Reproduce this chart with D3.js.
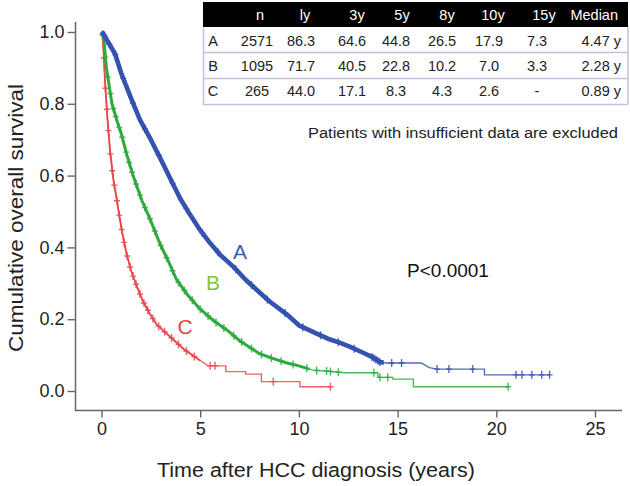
<!DOCTYPE html>
<html><head><meta charset="utf-8">
<script src="https://cdn.jsdelivr.net/npm/d3@7"></script>
<style>body{margin:0;background:#fff} svg{display:block} text{font-family:"Liberation Sans",Arial,Helvetica,sans-serif}</style>
</head><body><svg id="c" width="630" height="486"></svg>
<script>
// ---------- data ----------
const groups = ["A", "B", "C"];
// Kaplan-Meier vertices [years, survival]
const curveA = [[0,1],[0.1,0.995],[0.3,0.975],[0.68,0.94],[1.0,0.885],[1.5,0.815],[1.95,0.755],[2.5,0.7],[3.0,0.646],[3.5,0.59],[4.0,0.535],[4.5,0.49],[5.0,0.448],[5.5,0.412],[6.0,0.38],[6.7,0.345],[7.3,0.31],[7.9,0.28],[8.5,0.25],[9.4,0.213],[10.0,0.183],[10.9,0.16],[11.5,0.145],[12.1,0.134],[12.6,0.123],[13.2,0.108],[13.7,0.095],[14.1,0.081],[14.4,0.078],[16.2,0.078],[16.6,0.065],[17.0,0.061],[19.4,0.061],[19.4,0.045],[22.7,0.045]];
const curveB = [[0,1],[0.1,0.99],[0.25,0.9],[0.53,0.8],[0.8,0.75],[1.0,0.717],[1.3,0.655],[1.6,0.6],[2.05,0.53],[2.45,0.48],[2.96,0.41],[3.4,0.36],[3.8,0.31],[4.4,0.265],[5.0,0.228],[5.7,0.195],[6.35,0.17],[7.0,0.14],[7.7,0.115],[8.0,0.104],[8.7,0.09],[9.4,0.078],[10.0,0.07],[10.7,0.058],[11.5,0.055],[12.3,0.051],[14.0,0.051],[14.0,0.038],[14.75,0.038],[14.75,0.033],[15.8,0.033],[15.8,0.012],[20.6,0.012]];
const curveC = [[0,1],[0.05,0.99],[0.1,0.95],[0.18,0.86],[0.3,0.76],[0.43,0.67],[0.6,0.59],[0.75,0.54],[0.9,0.49],[1.05,0.44],[1.28,0.38],[1.5,0.335],[1.8,0.29],[2.1,0.25],[2.45,0.215],[2.8,0.185],[3.3,0.16],[3.8,0.135],[4.2,0.115],[4.6,0.1],[5.0,0.085],[5.4,0.07],[6.3,0.07],[6.3,0.054],[7.3,0.054],[7.3,0.047],[8.1,0.047],[8.1,0.026],[10.05,0.026],[10.05,0.012],[11.6,0.012]];
// censored observation times (years)
const censorA = [0.15,0.4,0.7,1.1,1.6,2.2,2.9,3.6,4.3,5.1,5.9,6.8,7.6,8.4,9.3,10.2,11.1,12.0,12.8,13.7,13.8,13.9,14.0,14.1,14.7,15.2,17.0,17.6,18.8,21.0,21.3,21.8,22.3,22.7];
const censorB = [0.08,0.2,0.32,0.45,0.6,0.72,0.9,1.05,1.25,1.4,1.55,1.75,1.95,2.2,2.45,2.7,3.0,3.3,3.6,3.9,4.2,4.6,5.0,5.4,5.8,6.2,6.7,7.1,7.6,8.1,8.6,9.1,9.7,10.4,10.9,11.4,11.6,12.0,13.8,14.1,14.5,20.6];
const censorC = [0.04,0.12,0.2,0.27,0.35,0.45,0.55,0.65,0.78,0.9,1.02,1.15,1.3,1.45,1.6,1.75,1.95,2.15,2.35,2.6,2.9,3.2,3.55,3.9,4.3,4.7,5.5,5.75,8.7,11.6];
const xTicks = [0, 5, 10, 15, 20, 25];
const yTicks = [0, 0.2, 0.4, 0.6, 0.8, 1.0];
const tableHeader = ["", "n", "ly", "3y", "5y", "8y", "10y", "15y", "Median"];
const tableRows = [
  ["A", "2571", "86.3", "64.6", "44.8", "26.5", "17.9", "7.3", "4.47 y"],
  ["B", "1095", "71.7", "40.5", "22.8", "10.2", "7.0", "3.3", "2.28 y"],
  ["C", "265", "44.0", "17.1", "8.3", "4.3", "2.6", "-", "0.89 y"]
];
const xTitle = "Time after HCC diagnosis (years)";
const yTitle = "Cumulative overall survival";
const pText = "P<0.0001";
const noteText = "Patients with insufficient data are excluded";

// ---------- styles / layout ----------
const curves = {A: curveA, B: curveB, C: curveC};
const censors = {A: censorA, B: censorB, C: censorC};
const lineColor = {A: "#3452b0", B: "#2eaa3e", C: "#e8484b"};
const labelColor = {A: "#3c5db8", B: "#84c23e", C: "#e8443f"};
const thickW = {A: 4.6, B: 3.0, C: 1.8};
const thickUntil = {A: 14.3, B: 10.5, C: 5.0};
const labelPos = {A: [240, 259], B: [213, 290], C: [185, 334]};

const svg = d3.select("#c");
const x = d3.scaleLinear().domain([0, 25]).range([101.5, 595]);
const y = d3.scaleLinear().domain([0, 1]).range([391, 32]);

// axes
const gx = svg.append("g").attr("transform", "translate(0,410.5)")
  .call(d3.axisBottom(x).tickValues(xTicks).tickSize(7).tickPadding(5));
const gy = svg.append("g").attr("transform", "translate(75.5,0)")
  .call(d3.axisLeft(y).tickValues(yTicks).tickFormat(d3.format(".1f")).tickSize(8).tickPadding(3));
[gx, gy].forEach(g => {
  g.select(".domain").remove();
  g.selectAll("line").attr("stroke", "#666").attr("stroke-width", 1.4);
  g.selectAll("text").attr("fill", "#222").style("font-size", "18px")
    .style("font-family", "'Liberation Sans',Arial,sans-serif");
});
svg.append("line").attr("x1", 75.5).attr("x2", 75.5).attr("y1", 22).attr("y2", 411)
  .attr("stroke", "#666").attr("stroke-width", 1.5);
svg.append("line").attr("x1", 75).attr("x2", 622).attr("y1", 410.5).attr("y2", 410.5)
  .attr("stroke", "#666").attr("stroke-width", 1.5);

// axis titles
svg.append("text").attr("x", 316).attr("y", 477).attr("text-anchor", "middle")
  .style("font-size", "20px").attr("fill", "#222")
  .attr("textLength", 318).attr("lengthAdjust", "spacingAndGlyphs").text(xTitle);
svg.append("text").attr("transform", "translate(23,218) rotate(-90)").attr("text-anchor", "middle")
  .style("font-size", "20px").attr("fill", "#222")
  .attr("textLength", 268).attr("lengthAdjust", "spacingAndGlyphs").text(yTitle);

// curves
function survAt(pts, t) {
  let s = pts[0][1];
  for (let i = 0; i < pts.length - 1; i++) {
    const a = pts[i], b = pts[i + 1];
    if (t >= a[0] && t <= b[0]) {
      if (b[0] === a[0]) return b[1];
      return a[1] + (b[1] - a[1]) * (t - a[0]) / (b[0] - a[0]);
    }
  }
  return pts[pts.length - 1][1];
}
const line = d3.line().x(d => x(d[0])).y(d => y(d[1]));
const defs = svg.append("defs");
groups.slice().reverse().forEach(g => {
  const pts = curves[g];
  defs.append("clipPath").attr("id", "clip" + g).append("rect")
    .attr("x", 0).attr("y", 0).attr("width", x(thickUntil[g])).attr("height", 486);
  svg.append("path").datum(pts).attr("d", line).attr("fill", "none")
    .attr("stroke", lineColor[g]).attr("stroke-width", 1.4).attr("opacity", 0.85);
  svg.append("path").datum(pts).attr("d", line).attr("fill", "none")
    .attr("clip-path", "url(#clip" + g + ")")
    .attr("stroke", lineColor[g]).attr("stroke-width", thickW[g]).attr("stroke-linejoin", "round");
  svg.append("g").selectAll("path").data(censors[g]).join("path")
    .attr("transform", t => `translate(${x(t)},${y(survAt(pts, t))})`)
    .attr("d", "M0,-4V4M-3,0H3").attr("stroke", lineColor[g]).attr("stroke-width", 1.4)
    .attr("opacity", 0.85);
  svg.append("text").attr("x", labelPos[g][0]).attr("y", labelPos[g][1])
    .attr("text-anchor", "middle").style("font-size", "21px").attr("fill", labelColor[g]).text(g);
});

// p-value
svg.append("text").attr("x", 448).attr("y", 277).attr("text-anchor", "middle")
  .style("font-size", "19px").attr("fill", "#111").text(pText);

// table
const tbl = svg.append("g");
const tL = 203, tR = 628, hTop = 2, hBot = 27, rowLines = [52.5, 78.5, 104.5];
const rowBase = [46, 71, 96];
const headX = [213, 260, 305, 357, 402, 447, 493, 544, 618];
const valX = [213, 257, 301, 352, 396, 442, 489, 537, 621];
tbl.append("rect").attr("x", tL).attr("y", hTop).attr("width", tR - tL).attr("height", hBot - hTop).attr("fill", "#000");
const border = "#c6bfe0";
tbl.append("line").attr("x1", tL + 0.5).attr("x2", tL + 0.5).attr("y1", hBot).attr("y2", rowLines[2]).attr("stroke", border).attr("stroke-width", 1.5);
tbl.append("line").attr("x1", tR).attr("x2", tR).attr("y1", hBot).attr("y2", rowLines[2]).attr("stroke", border).attr("stroke-width", 1.5);
tbl.selectAll(".rl").data(rowLines).join("line")
  .attr("x1", tL).attr("x2", tR).attr("y1", d => d).attr("y2", d => d)
  .attr("stroke", border).attr("stroke-width", 1.5);
tbl.selectAll(".hd").data(tableHeader).join("text")
  .attr("x", (d, i) => headX[i]).attr("y", 20)
  .attr("text-anchor", (d, i) => i === tableHeader.length - 1 ? "end" : "middle")
  .style("font-size", "14.5px").attr("fill", "#fff").text(d => d);
tableRows.forEach((row, r) => {
  tbl.append("g").selectAll("text").data(row).join("text")
    .attr("x", (d, i) => valX[i]).attr("y", rowBase[r])
    .attr("text-anchor", (d, i) => i === row.length - 1 ? "end" : "middle")
    .style("font-size", "14.5px").attr("fill", "#222").text(d => d);
});
svg.append("text").attr("x", 618).attr("y", 138).attr("text-anchor", "end")
  .style("font-size", "14px").attr("fill", "#222")
  .attr("textLength", 310).attr("lengthAdjust", "spacingAndGlyphs").text(noteText);
</script></body></html>
